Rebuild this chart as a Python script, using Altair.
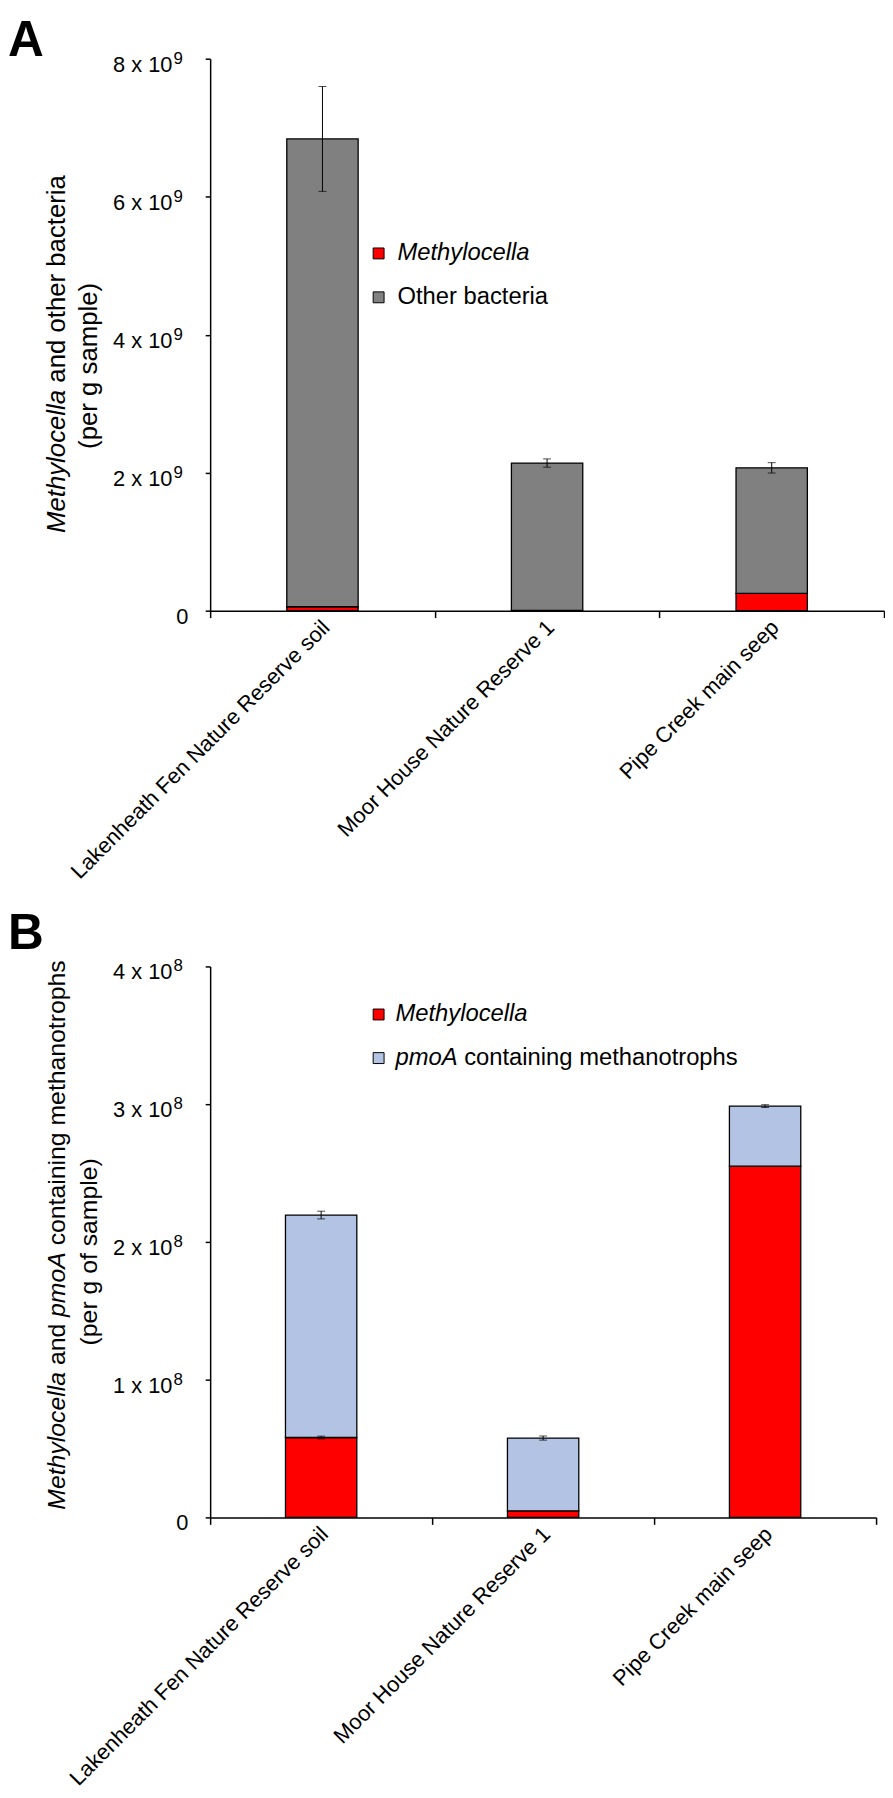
import altair as alt
import pandas as pd

# ---------------- data ----------------
sites = ["Lakenheath Fen Nature Reserve soil", "Moor House Nature Reserve 1", "Pipe Creek main seep"]

# Panel A: Methylocella and other bacteria (per g sample)
a_methylocella = [5.7e7, 4.7e6, 2.5e8]
a_other = [6.78e9, 2.135e9, 1.82e9]
a_total_err = [7.6e8, 6.0e7, 7.5e7]
a_ticks = [0, 2e9, 4e9, 6e9, 8e9]

# Panel B: Methylocella and pmoA containing methanotrophs (per g of sample)
b_methylocella = [5.8e7, 4.8e6, 2.55e8]
b_pmoa = [1.615e8, 5.28e7, 4.36e7]
b_total_err = [2.8e6, 1.5e6, 1.0e6]
b_methylocella_err = [1.0e6, 0.0, 0.0]
b_ticks = [0, 1e8, 2e8, 3e8, 4e8]

RED = "#ff0000"
GREY = "#808080"
BLUE = "#b3c3e3"
FONT = "Liberation Sans"

# Arial advance widths (per 1000 em) used to chain mixed italic/regular text
AW = {" ": 278, "(": 333, ")": 333, "A": 667, "M": 833, "a": 556, "b": 556, "c": 500,
      "d": 556, "e": 556, "f": 278, "g": 556, "h": 556, "i": 222, "l": 222, "m": 833,
      "n": 556, "o": 556, "p": 556, "r": 333, "s": 500, "t": 278, "y": 500}


def tw(s, size):
    return sum(AW.get(c, 556) for c in s) / 1000.0 * size


dummy = pd.DataFrame({"a": [0]})
LEG_FS = 24


def text_layer(txt, x, y, size, style="normal", weight="normal", angle=0, align="left",
               baseline="middle"):
    kw = dict(text=txt, font=FONT, fontSize=size, fontStyle=style, fontWeight=weight,
              align=align, baseline=baseline, color="black")
    if angle:
        kw["angle"] = angle
    return alt.Chart(dummy).mark_text(**kw).encode(x=alt.value(x), y=alt.value(y))


def rotated_line(segments, x, yc, size):
    """segments: list of (text, style, gap_before). Text reads upward, centred on yc."""
    total = 0.0
    for t, st, gap in segments:
        total += gap + tw(t, size)
    y = yc + total / 2.0
    layers = []
    for t, st, gap in segments:
        y -= gap
        layers.append(text_layer(t, x, y, size, style=st, angle=270, align="left"))
        y -= tw(t, size)
    return layers


def panel(meth, other, other_name, other_color, total_err, meth_err, ticks, exp_div, sup,
          width, height, letter, letter_y, title1, title2, t1_center, t2_center, title_fs,
          legend_pos, legend_other_segments):
    df = pd.DataFrame({
        "site": sites * 2,
        "group": ["Methylocella"] * 3 + [other_name] * 3,
        "fill": [RED] * 3 + [other_color] * 3,
        "value": list(meth) + list(other),
        "rank": [0] * 3 + [1] * 3,
    })
    totals = [m + o for m, o in zip(meth, other)]
    err = pd.DataFrame({
        "site": sites,
        "lo": [t - e for t, e in zip(totals, total_err)],
        "hi": [t + e for t, e in zip(totals, total_err)],
    })
    merr = pd.DataFrame({
        "site": sites,
        "lo": [m - e for m, e in zip(meth, meth_err)],
        "hi": [m + e for m, e in zip(meth, meth_err)],
        "e": meth_err,
    })
    merr = merr[merr["e"] > 0]
    err = pd.concat([err, merr[["site", "lo", "hi"]]], ignore_index=True)

    xaxis = alt.Axis(title=None, labelAngle=315, labelAlign="right", labelBaseline="middle",
                     labelPadding=6, labelFontSize=22, tickBand="extent", tickSize=7,
                     labelFont=FONT, labelLimit=600, labelOffset=3)
    xenc = alt.X("site:N", sort=sites, title=None,
                 scale=alt.Scale(paddingInner=0, paddingOuter=0), axis=xaxis)
    yscale = alt.Scale(domain=[ticks[0], ticks[-1]], nice=False)
    yaxis = alt.Axis(title=None, values=ticks, labels=False, tickSize=5, grid=False)

    bars = alt.Chart(df).mark_bar(width=72, stroke="black", strokeWidth=1.3).encode(
        x=xenc,
        y=alt.Y("value:Q", stack="zero", scale=yscale, axis=yaxis, title=None),
        color=alt.Color("fill:N", scale=None, legend=None),
        order=alt.Order("rank:Q"),
        detail="group:N",
    )
    rule = alt.Chart(err).mark_rule(color="black", strokeWidth=1).encode(
        x=xenc, y=alt.Y("lo:Q", scale=yscale, axis=yaxis, title=None), y2="hi:Q")
    cap_lo = alt.Chart(err).mark_tick(color="black", thickness=1, size=8).encode(
        x=xenc, y=alt.Y("lo:Q", scale=yscale, axis=yaxis, title=None))
    cap_hi = alt.Chart(err).mark_tick(color="black", thickness=1, size=8).encode(
        x=xenc, y=alt.Y("hi:Q", scale=yscale, axis=yaxis, title=None))

    layers = [bars, rule, cap_lo, cap_hi]

    # y tick labels "n x 10^k" with a real superscript, placed through the y scale
    tdf = pd.DataFrame({"val": ticks})
    ybase = alt.Y("val:Q", scale=yscale, axis=yaxis, title=None)
    main = alt.Chart(tdf).transform_filter("datum.val > 0").transform_calculate(
        lab="format(datum.val / %g, 'd') + ' x 10'" % exp_div
    ).mark_text(font=FONT, fontSize=22, align="right", baseline="alphabetic", dy=13,
                color="black").encode(x=alt.value(-38), y=ybase, text="lab:N")
    supt = alt.Chart(tdf).transform_filter("datum.val > 0").mark_text(
        text=sup, font=FONT, fontSize=17, align="left", baseline="alphabetic", dy=5,
        color="black").encode(x=alt.value(-37), y=ybase)
    zero = alt.Chart(tdf).transform_filter("datum.val == 0").mark_text(
        text="0", font=FONT, fontSize=22, align="right", baseline="alphabetic", dy=13,
        color="black").encode(x=alt.value(-22), y=ybase)
    layers += [main, supt, zero]

    # legend
    sx, y1, y2, tx = legend_pos
    for yy, col in ((y1, RED), (y2, other_color)):
        layers.append(alt.Chart(dummy).mark_square(size=121, fill=col, stroke="black",
                                                   strokeWidth=1, opacity=1).encode(
            x=alt.value(sx), y=alt.value(yy)))
    layers.append(text_layer("Methylocella", tx, y1, LEG_FS, style="italic"))
    xx = tx
    for t, st, gap in legend_other_segments:
        xx += gap
        layers.append(text_layer(t, xx, y2, LEG_FS, style=st))
        xx += tw(t, LEG_FS)

    # y-axis title (mixed styles)
    layers += rotated_line(title1, -154, t1_center, title_fs)
    layers.append(text_layer(title2, -122, t2_center, title_fs, angle=270, align="center"))

    # panel letter
    layers.append(text_layer(letter, -204, letter_y, 50, weight="bold", baseline="alphabetic"))

    return alt.layer(*layers).properties(width=width, height=height)


panel_a = panel(
    a_methylocella, a_other, "Other bacteria", GREY, a_total_err, [0, 0, 0], a_ticks, 1e9,
    "9", 680, 557, "A", -3,
    [("Methylocella", "italic", 0), ("and other bacteria", "normal", tw(" ", 26))],
    "(per g sample)", 298, 310, 26,
    (170, 196.5, 240.8, 189),
    [("Other bacteria", "normal", 0)],
)

panel_b = panel(
    b_methylocella, b_pmoa, "pmoA containing methanotrophs", BLUE, b_total_err,
    b_methylocella_err, b_ticks, 1e8, "8", 672, 556, "B", -18,
    [("Methylocella", "italic", 0), ("and", "normal", tw(" ", 25)),
     ("pmoA", "italic", tw(" ", 25)), ("containing methanotrophs", "normal", tw(" ", 25))],
    "(per g of sample)", 271, 288, 25,
    (170, 48.5, 92.5, 187),
    [("pmoA", "italic", 0), ("containing methanotrophs", "normal", tw(" ", LEG_FS))],
)

chart = alt.concat(panel_a, panel_b, columns=1, spacing=359, bounds="flush").properties(
    padding=0
).configure_view(
    stroke=None
).configure_axis(
    domainColor="black", tickColor="black", labelColor="black", domainWidth=1.5,
    tickWidth=1.5, grid=False
)

chart.save("out.html", embed_options={"renderer": "svg", "actions": False})
